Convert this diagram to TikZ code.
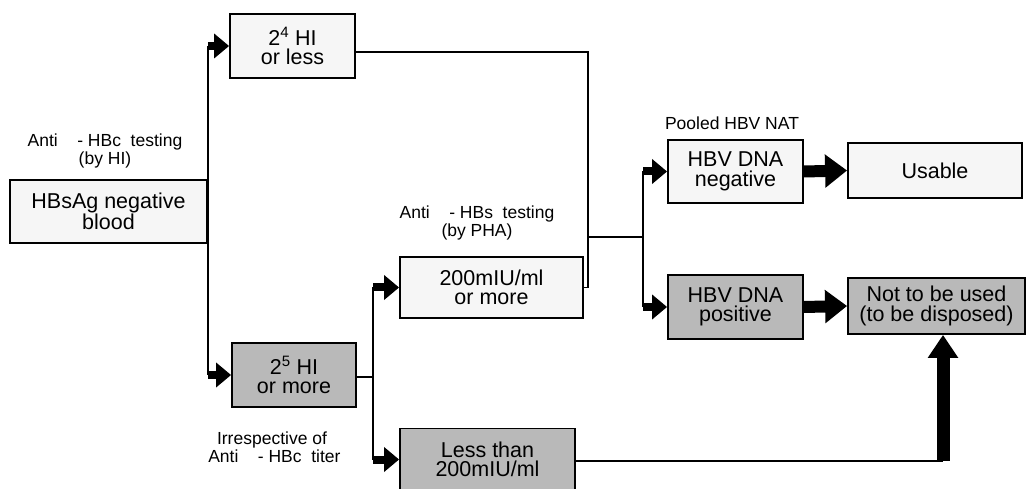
\documentclass[tikz,border=0pt]{standalone}
\usepackage{fontspec}
\setmainfont{Liberation Sans}
\usetikzlibrary{arrows.meta}
\tikzset{
  boxbase/.style={draw=black, line width=1.8pt, rectangle, align=center, inner sep=0pt,
    font=\fontsize{21.5}{19.5}\selectfont},
  lightbox/.style={boxbase, fill=gray!7},
  darkbox/.style={boxbase, fill=gray!55},
  lbl/.style={align=center, inner sep=0pt, font=\fontsize{17.5}{18.5}\selectfont},
  wire/.style={line width=1.5pt},
  smallarrow/.style={line width=8pt, -{Triangle[length=15pt,width=24pt]}},
  bigarrow/.style={line width=12pt, -{Triangle[length=22pt,width=32pt]}},
}
\begin{document}
\begin{tikzpicture}[x=1pt,y=-1pt]
\useasboundingbox (0,0) rectangle (1029,489);
\begin{scope}
\clip (0,0) rectangle (1029,489);
% labels
\node[lbl] (l1) at (105,151) {Anti\ \ \ \ - HBc\ \ testing\\(by HI)};
\node[lbl] (l2) at (272,447) {Irrespective of\\\ Anti\ \ \ \ - HBc\ \ titer};
\node[lbl] (l3) at (477,223) {Anti\ \ \ \ - HBs\ \ testing\\(by PHA)};
\node[lbl] (l4) at (732,123) {Pooled HBV NAT};
% boxes
\node[lightbox, minimum width=197pt, minimum height=63pt] (A) at (108.5,211.5) {HBsAg negative\\blood};
\node[lightbox, minimum width=125pt, minimum height=64pt] (top) at (292.5,46) {2\textsuperscript{4} HI\\or less};
\node[darkbox, minimum width=124pt, minimum height=64pt] (bot) at (294,375) {2\textsuperscript{5} HI\\or more};
\node[lightbox, minimum width=183pt, minimum height=61pt] (mid) at (491.5,287.5) {200mIU/ml\\or more};
\node[darkbox, minimum width=175pt, minimum height=62pt] (less) at (487.5,459.5) {Less than\\200mIU/ml};
\node[lightbox, minimum width=135pt, minimum height=63pt] (neg) at (735.5,171.5) {HBV DNA\\negative};
\node[darkbox, minimum width=135pt, minimum height=64pt] (pos) at (735.5,307) {HBV DNA\\positive};
\node[lightbox, minimum width=174pt, minimum height=55pt] (use) at (935,170.5) {Usable};
\node[darkbox, minimum width=177pt, minimum height=56pt] (nu) at (936.5,306) {Not to be used\\(to be disposed)};
% junction coordinates
\coordinate (j0) at (355,52);
\coordinate (j1) at (588,237);
\coordinate (j2) at (643,237);
\coordinate (j3) at (373,377);
\coordinate (j4) at (943,461);
% first split
\draw[wire] (A.east |- top.west) -- (A.east |- bot.west);
\draw[smallarrow] (A.east |- top.west) -- (top.west);
\draw[smallarrow] (A.east |- bot.west) -- (bot.west);
% top branch and 200 or more merge
\draw[wire] (j0) -| (j1);
\draw[wire] (j1) |- (mid.east);
\draw[wire] (j1) -- (j2);
\draw[wire] (j2 |- neg.west) -- (j2 |- pos.west);
\draw[smallarrow] (j2 |- neg.west) -- (neg.west);
\draw[smallarrow] (j2 |- pos.west) -- (pos.west);
% bottom branch split
\draw[wire] (bot.east |- j3) -- (j3);
\draw[wire] (j3 |- mid.west) -- (j3 |- less.west);
\draw[smallarrow] (j3 |- mid.west) -- (mid.west);
\draw[smallarrow] (j3 |- less.west) -- (less.west);
% results
\draw[bigarrow] (neg.east) -- (use.west);
\draw[bigarrow] (pos.east) -- (nu.west);
\draw[wire] (less.east |- j4) -- (j4);
\draw[line width=13pt, -{Triangle[length=23pt,width=29pt]}] (j4) -- (j4 |- nu.south);
\end{scope}
\end{tikzpicture}
\end{document}
